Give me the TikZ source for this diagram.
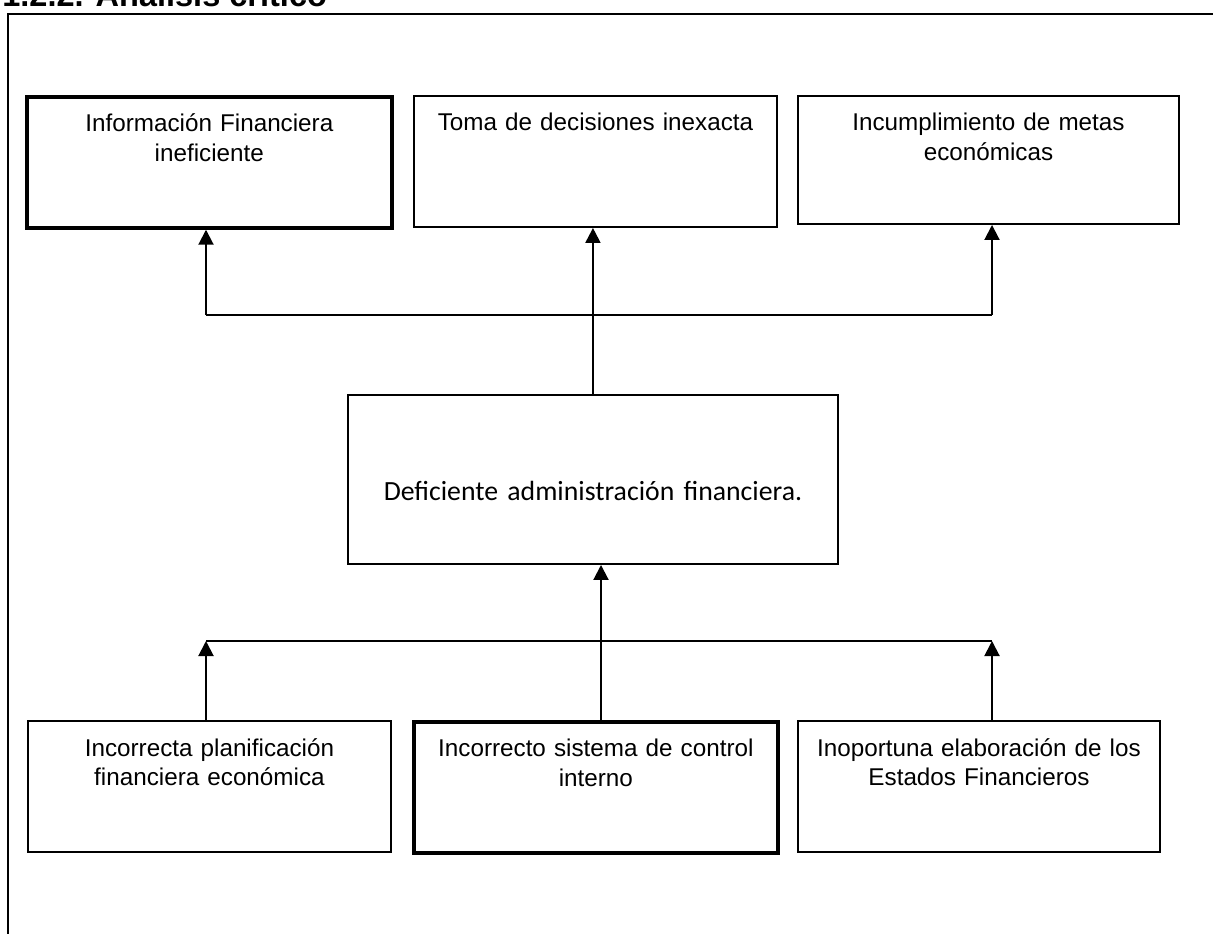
\documentclass[tikz,border=0pt]{standalone}
\usepackage{fontspec}
\setmainfont{Liberation Sans}
\newfontfamily\calibrifont{Carlito}
\usetikzlibrary{arrows.meta}

\begin{document}
\begin{tikzpicture}[
  x=0.02cm, y=-0.02cm,
  every node/.style={font=\fontsize{13.8}{16.6}\selectfont},
  box/.style={
    draw,
    line width=0.04cm,
    align=center,
    inner sep=0pt,
    anchor=north west,
    text width=#1,
    text height=0.7cm,
    text depth=1.92cm
  },
  thickbox/.style={box=#1, line width=0.075cm},
  arrow/.style={-{Triangle[length=0.3cm,width=0.3cm]}, line width=0.04cm},
  bus/.style={line width=0.04cm}
]
\useasboundingbox (0,0) rectangle (1213,933);

% title and outer frame
\node[font=\bfseries\fontsize{18.5}{22}\selectfont, anchor=base west, inner sep=0pt] (titulo) at (2,7) {1.2.2. Análisis crítico};
\draw[line width=0.05cm] (8,960) -- (8,14) -- (1240,14) -- (1240,960) -- cycle;

% effects
\node[thickbox=7.3cm] (efecto1) at (25,95) {Información Financiera\\ineficiente};
\node[box=7.26cm] (efecto2) at (413,95) {Toma de decisiones inexacta};
\node[box=7.62cm, text depth=1.86cm] (efecto3) at (797,95) {Incumplimiento de metas\\económicas};

% central problem
\node[box=9.8cm, font=\calibrifont\fontsize{15.8}{19}\selectfont,
  text height=2.12cm, text depth=1.26cm] (problema) at (347,394) {Deficiente administración financiera.};

% causes
\node[box=7.26cm] (causa1) at (27,720) {Incorrecta planificación\\financiera económica};
\node[thickbox=7.28cm] (causa2) at (412,720) {Incorrecto sistema de control\\interno};
\node[box=7.24cm] (causa3) at (797,720) {Inoportuna elaboración de los\\Estados Financieros};

\coordinate (efL) at (206,315);
\coordinate (efR) at (992,315);
\coordinate (caL) at (206,641);
\coordinate (caR) at (992,641);

\draw[bus] (efL) -- (efR);
\draw[arrow] (efL) -- (efL |- efecto1.south);
\draw[arrow] (efR) -- (efR |- efecto3.south);
\draw[arrow] (problema.north) -- (problema.north |- efecto2.south);

\draw[bus] (caL) -- (caR);
\draw[arrow] (caL |- causa1.north) -- (caL);
\draw[arrow] (caR |- causa3.north) -- (caR);
\draw[arrow] (601,0 |- causa2.north) -- (601,0 |- problema.south);
\end{tikzpicture}
\end{document}
